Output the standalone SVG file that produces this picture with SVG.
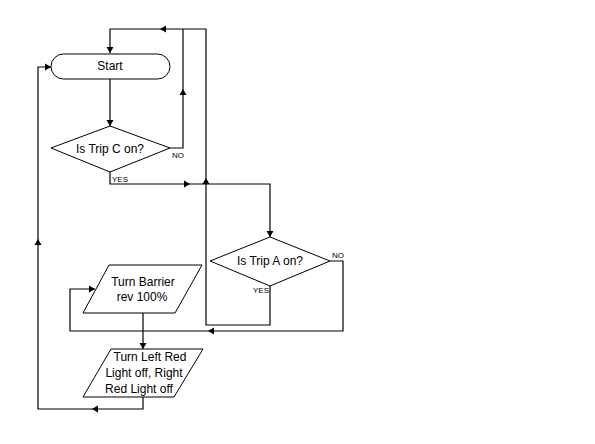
<svg xmlns="http://www.w3.org/2000/svg" xmlns:xlink="http://www.w3.org/1999/xlink" width="595" height="444" viewBox="0 0 595 444">
<style>
.shape{fill:#fff;stroke:#000;stroke-width:1}
.line{fill:none;stroke:#000;stroke-width:1.2}
.t{font-family:"Liberation Sans",Arial,sans-serif;font-size:12px;fill:#000;text-anchor:middle}
.lbl{font-family:"Liberation Sans",Arial,sans-serif;font-size:8px;fill:#000}
</style>
<defs>
<polygon id="ah" points="0,0 -6,-3.5 -6,3.5" fill="#000"/>
</defs>
<rect width="595" height="444" fill="#fff"/>
<g id="connectors">
<path class="line" d="M110,79 V126"/>
<path class="line" d="M270,286 V325 H206 V29 H110 V53"/>
<path class="line" d="M170,148 H183 V29"/>
<path class="line" d="M110,172 V184 H270 V237"/>
<path class="line" d="M330,261 H343 V331 H70 V289 H95"/>
<path class="line" d="M143,313 V349"/>
<path class="line" d="M143,397 V409 H38 V67 H51"/>
<use xlink:href="#ah" transform="translate(160,29) rotate(180)"/>
<use xlink:href="#ah" transform="translate(110,53) rotate(90)"/>
<use xlink:href="#ah" transform="translate(110,126) rotate(90)"/>
<use xlink:href="#ah" transform="translate(183,89) rotate(-90)"/>
<use xlink:href="#ah" transform="translate(190,184)"/>
<use xlink:href="#ah" transform="translate(206,178) rotate(-90)"/>
<use xlink:href="#ah" transform="translate(270,237) rotate(90)"/>
<use xlink:href="#ah" transform="translate(208,331) rotate(180)"/>
<use xlink:href="#ah" transform="translate(95,289)"/>
<use xlink:href="#ah" transform="translate(143,349) rotate(90)"/>
<use xlink:href="#ah" transform="translate(92,409) rotate(180)"/>
<use xlink:href="#ah" transform="translate(38,239) rotate(-90)"/>
<use xlink:href="#ah" transform="translate(51,67)"/>
<text class="lbl" x="172" y="158">NO</text>
<text class="lbl" x="112" y="182">YES</text>
<text class="lbl" x="332" y="258">NO</text>
<text class="lbl" x="253" y="293">YES</text>
</g>
<g id="start">
<rect class="shape" x="51" y="54" width="119" height="25" rx="12.5"/>
<text class="t" x="110" y="70">Start</text>
</g>
<g id="tripC">
<polygon class="shape" points="110,126 170,148 110,172 51,148"/>
<text class="t" x="110" y="153">Is Trip C on?</text>
</g>
<g id="tripA">
<polygon class="shape" points="270,237 330,261 270,286 210,261"/>
<text class="t" x="270" y="265">Is Trip A on?</text>
</g>
<g id="barrier">
<polygon class="shape" points="109,265 202,265 175,313 83,313"/>
<text class="t" x="143" y="286">Turn Barrier</text>
<text class="t" x="142" y="301">rev 100%</text>
</g>
<g id="lights">
<polygon class="shape" points="111,349 203,349 174,397 83,397"/>
<text class="t" x="150" y="361">Turn Left Red</text>
<text class="t" x="144" y="377">Light off, Right</text>
<text class="t" x="139" y="393">Red Light off</text>
</g>
</svg>
